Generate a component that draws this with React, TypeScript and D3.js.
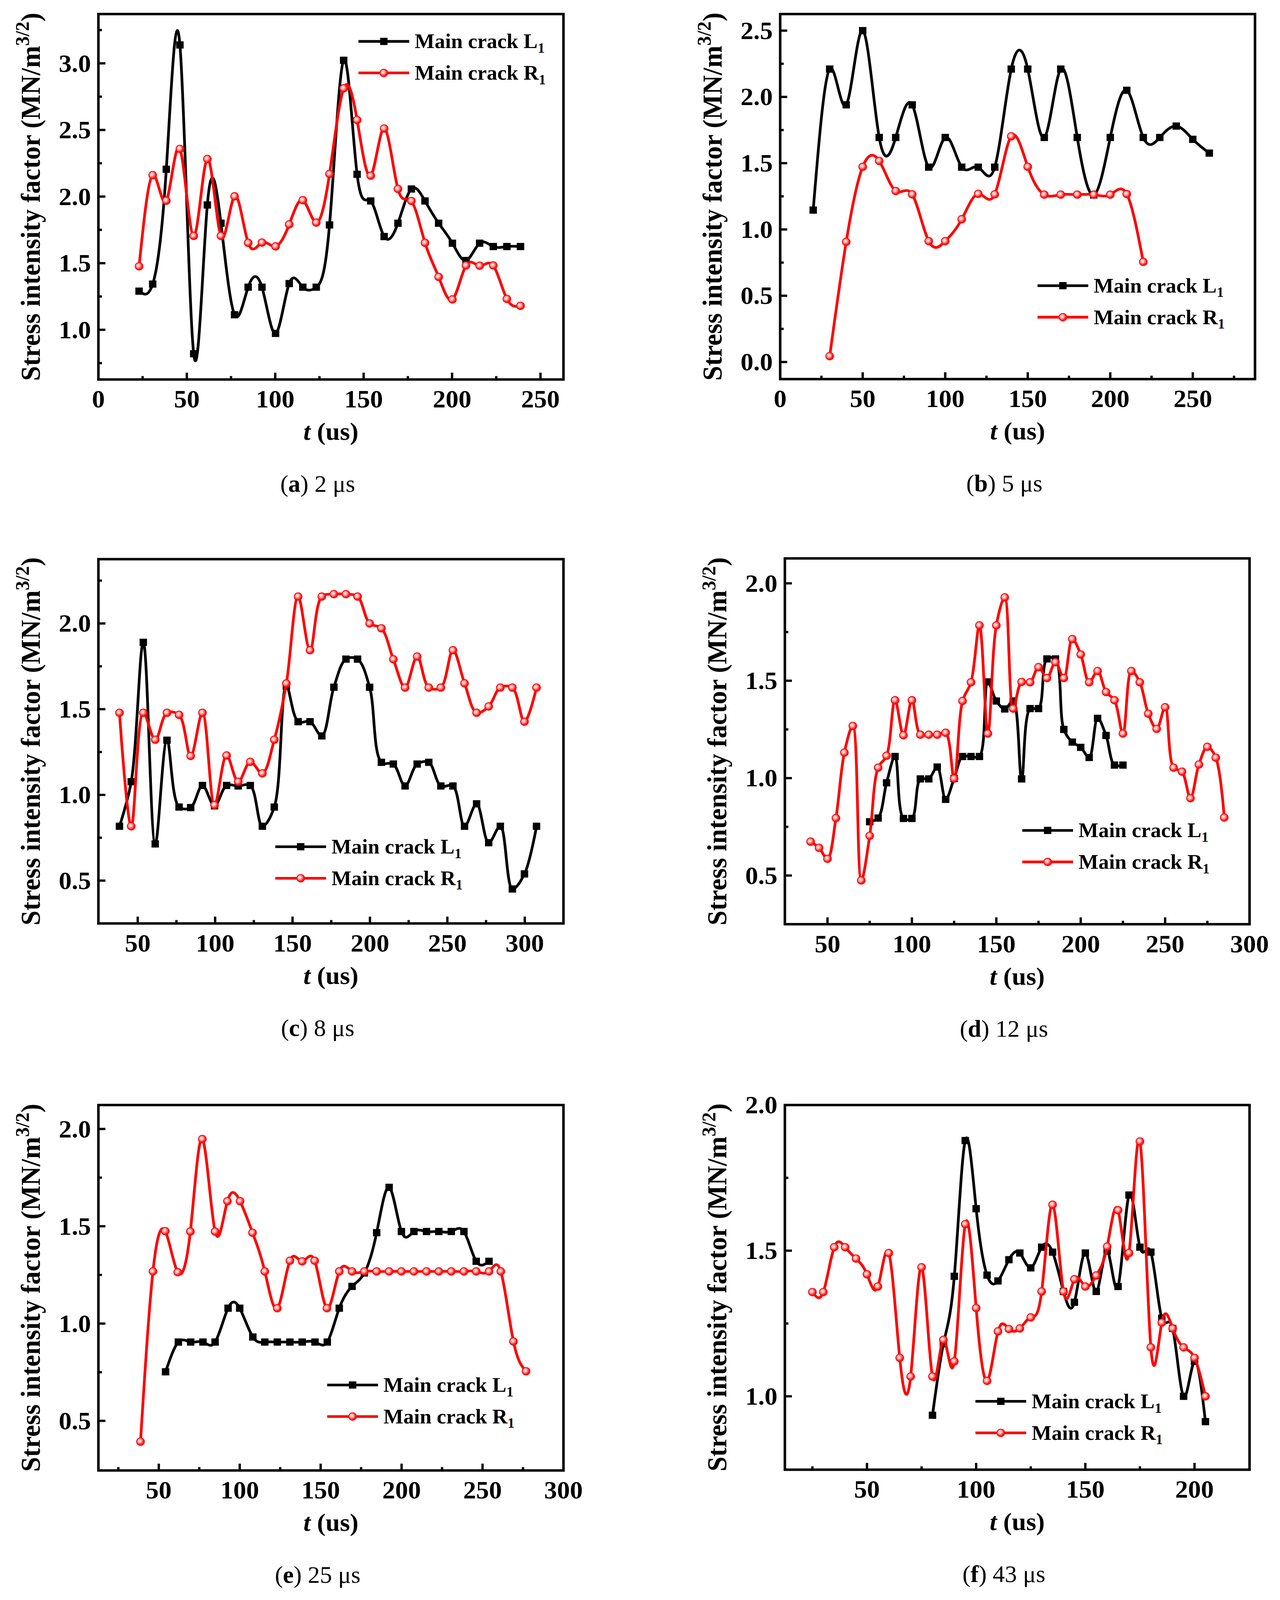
import * as d3 from "d3";

// ---- data (t in us, K in MN/m^3/2) ----
const tA = [23, 30.7, 38.4, 46.1, 53.9, 61.6, 69.3, 77, 84.7, 92.5, 100.2, 107.9, 115.6, 123.2, 130.7, 138.7, 146.3, 154, 161.6, 169.4, 177, 184.7, 192.4, 200.2, 207.9, 215.6, 223.3, 231, 238.7];
const l1A = [1.29, 1.343, 2.205, 3.138, 0.82, 1.937, 1.8, 1.113, 1.32, 1.32, 0.973, 1.347, 1.32, 1.32, 1.787, 3.023, 2.167, 1.967, 1.7, 1.8, 2.057, 1.967, 1.8, 1.65, 1.52, 1.65, 1.625, 1.625, 1.625];
const r1A = [1.477, 2.161, 1.969, 2.358, 1.705, 2.282, 1.705, 2.002, 1.653, 1.655, 1.626, 1.791, 1.973, 1.805, 2.17, 2.812, 2.575, 2.157, 2.511, 2.057, 1.967, 1.653, 1.397, 1.228, 1.483, 1.481, 1.483, 1.232, 1.18];

const tBL = [20, 30, 40, 50, 60, 70, 80, 90, 100, 110, 120, 130, 140, 150, 160, 170, 180, 190, 200, 210, 220, 230, 240, 250, 260];
const l1B = [1.146, 2.21, 1.94, 2.5, 1.694, 1.694, 1.94, 1.47, 1.694, 1.47, 1.47, 1.47, 2.21, 2.21, 1.694, 2.21, 1.694, 1.26, 1.694, 2.05, 1.694, 1.694, 1.78, 1.68, 1.576];
const tBR = [30, 40, 50, 60, 70, 80, 90, 100, 110, 120, 130, 140, 150, 160, 170, 180, 190, 200, 210, 220];
const r1B = [0.044, 0.906, 1.473, 1.517, 1.29, 1.265, 0.912, 0.912, 1.077, 1.269, 1.265, 1.703, 1.473, 1.263, 1.263, 1.263, 1.263, 1.263, 1.267, 0.755];

const tC = [38.2, 45.8, 53.6, 61.3, 68.9, 76.7, 84.2, 91.8, 99.6, 107.4, 114.9, 122.7, 130.5, 138.2, 146, 153.6, 161.3, 168.9, 176.7, 184.5, 192, 199.8, 207.4, 215.1, 222.7, 230.5, 238, 245.8, 253.6, 261.1, 268.9, 276.7, 284.2, 292, 299.8, 307.6];
const l1C = [0.817, 1.077, 1.89, 0.714, 1.319, 0.929, 0.926, 1.055, 0.936, 1.055, 1.052, 1.055, 0.817, 0.929, 1.634, 1.427, 1.427, 1.344, 1.628, 1.792, 1.792, 1.628, 1.19, 1.18, 1.052, 1.18, 1.19, 1.052, 1.052, 0.817, 0.948, 0.721, 0.817, 0.451, 0.539, 0.817];
const r1C = [1.479, 0.817, 1.479, 1.322, 1.479, 1.467, 1.227, 1.479, 0.941, 1.23, 1.077, 1.193, 1.126, 1.322, 1.65, 2.157, 1.844, 2.157, 2.171, 2.171, 2.157, 2.0, 1.972, 1.791, 1.626, 1.807, 1.626, 1.626, 1.844, 1.651, 1.479, 1.516, 1.626, 1.626, 1.427, 1.626];

const tDL = [75, 80, 85, 90, 95, 100, 105, 110, 115, 120, 125, 130, 135, 140, 145, 150, 155, 160, 165, 170, 175, 180, 185, 190, 195, 200, 205, 210, 215, 220, 225];
const l1D = [0.776, 0.795, 0.976, 1.111, 0.793, 0.793, 0.996, 0.996, 1.057, 0.891, 0.998, 1.111, 1.111, 1.111, 1.494, 1.396, 1.355, 1.396, 0.996, 1.357, 1.357, 1.612, 1.612, 1.25, 1.185, 1.158, 1.106, 1.307, 1.219, 1.067, 1.067];
const tDR = [40, 45, 50, 55, 60, 65, 70, 75, 80, 85, 90, 95, 100, 105, 110, 115, 120, 125, 130, 135, 140, 145, 150, 155, 160, 165, 170, 175, 180, 185, 190, 195, 200, 205, 210, 215, 220, 225, 230, 235, 240, 245, 250, 255, 260, 265, 270, 275, 280, 285];
const r1D = [0.674, 0.642, 0.586, 0.795, 1.131, 1.268, 0.475, 0.704, 1.054, 1.115, 1.4, 1.22, 1.4, 1.223, 1.223, 1.223, 1.233, 0.998, 1.396, 1.492, 1.784, 1.229, 1.784, 1.928, 1.357, 1.494, 1.492, 1.57, 1.514, 1.595, 1.514, 1.714, 1.635, 1.492, 1.55, 1.442, 1.4, 1.229, 1.55, 1.492, 1.331, 1.253, 1.364, 1.054, 1.033, 0.897, 1.07, 1.161, 1.105, 0.798];

const tEL = [54.2, 62.1, 69.7, 77.3, 84.8, 92.8, 100, 108.1, 115.5, 123.2, 131, 138.6, 146.5, 154.1, 161.5, 169.4, 177, 184.6, 192.3, 199.9, 207.6, 215.4, 223, 230.7, 238.5, 246.1, 254];
const l1E = [0.752, 0.905, 0.905, 0.905, 0.905, 1.079, 1.079, 0.931, 0.905, 0.905, 0.905, 0.905, 0.905, 0.905, 1.079, 1.191, 1.26, 1.467, 1.7, 1.473, 1.473, 1.473, 1.473, 1.473, 1.473, 1.32, 1.32];
const tER = [38.7, 46.4, 54, 61.7, 69.5, 76.9, 84.8, 92.4, 100.2, 107.9, 115.5, 123.2, 131, 138.6, 146.3, 153.9, 161.5, 169.4, 177, 184.6, 192.3, 199.9, 207.6, 215.4, 223, 230.7, 238.5, 246.1, 254, 261.3, 269.1, 276.9];
const r1E = [0.393, 1.268, 1.475, 1.264, 1.473, 1.948, 1.473, 1.629, 1.629, 1.467, 1.268, 1.079, 1.323, 1.32, 1.323, 1.079, 1.268, 1.268, 1.268, 1.268, 1.268, 1.268, 1.268, 1.268, 1.268, 1.268, 1.268, 1.268, 1.268, 1.268, 0.908, 0.755];

const tFL = [80, 85, 90, 95, 100, 105, 110, 115, 120, 125, 130, 135, 140, 145, 150, 155, 160, 165, 170, 175, 180, 185, 190, 195, 200, 205];
const l1F = [0.935, 1.18, 1.412, 1.878, 1.644, 1.416, 1.396, 1.469, 1.492, 1.441, 1.512, 1.495, 1.36, 1.323, 1.492, 1.36, 1.499, 1.377, 1.691, 1.512, 1.495, 1.268, 1.233, 1.0, 1.12, 0.913];
const tFR = [25, 30, 35, 40, 45, 50, 55, 60, 65, 70, 75, 80, 85, 90, 95, 100, 105, 110, 115, 120, 125, 130, 135, 140, 145, 150, 155, 160, 165, 170, 175, 180, 185, 190, 195, 200, 205];
const r1F = [1.358, 1.358, 1.512, 1.512, 1.473, 1.419, 1.377, 1.492, 1.132, 1.068, 1.443, 1.068, 1.194, 1.12, 1.591, 1.303, 1.053, 1.223, 1.231, 1.233, 1.271, 1.36, 1.658, 1.36, 1.402, 1.377, 1.415, 1.514, 1.639, 1.492, 1.875, 1.168, 1.253, 1.233, 1.168, 1.132, 1.0];

const seriesNames = ["Main crack L", "Main crack R"];
const captions = [["a", "2 μs"], ["b", "5 μs"], ["c", "8 μs"], ["d", "12 μs"], ["e", "25 μs"], ["f", "43 μs"]];

const W = 3278;
const H = 4212;
const FONT = "'Liberation Serif', 'Times New Roman', serif";

type Cfg = {
  key: string;
  box: [number, number, number, number]; // left, top, right, bottom
  xDomain: [number, number];
  yDomain: [number, number];
  xTicks: number[];
  xMinor: number[];
  yTicks: number[];
  yMinor: number[];
  l1: [number[], number[]];
  r1: [number[], number[]];
  legend: [number, number]; // line start x, first row y
  caption: string[];
  curve: d3.CurveFactory;
};

const panels: Cfg[] = [
  {
    key: "a", box: [252, 37, 1443, 999], xDomain: [0, 263], yDomain: [0.627, 3.37],
    xTicks: [0, 50, 100, 150, 200, 250], xMinor: [25, 75, 125, 175, 225],
    yTicks: [1.0, 1.5, 2.0, 2.5, 3.0], yMinor: [0.75, 1.25, 1.75, 2.25, 2.75, 3.25],
    l1: [tA, l1A], r1: [tA, r1A], legend: [918, 109], caption: captions[0], curve: d3.curveNatural,
  },
  {
    key: "b", box: [1998, 37, 3214, 998], xDomain: [0, 287.7], yDomain: [-0.129, 2.625],
    xTicks: [0, 50, 100, 150, 200, 250], xMinor: [25, 75, 125, 175, 225, 275],
    yTicks: [0.0, 0.5, 1.0, 1.5, 2.0, 2.5], yMinor: [0.25, 0.75, 1.25, 1.75, 2.25],
    l1: [tBL, l1B], r1: [tBR, r1B], legend: [2657, 752], caption: captions[1], curve: d3.curveNatural,
  },
  {
    key: "c", box: [252, 1472, 1443, 2431], xDomain: [24.6, 325], yDomain: [0.25, 2.375],
    xTicks: [50, 100, 150, 200, 250, 300], xMinor: [75, 125, 175, 225, 275],
    yTicks: [0.5, 1.0, 1.5, 2.0], yMinor: [0.75, 1.25, 1.75, 2.25],
    l1: [tC, l1C], r1: [tC, r1C], legend: [705, 2229], caption: captions[2], curve: d3.curveCatmullRom.alpha(0.5),
  },
  {
    key: "d", box: [2010, 1470, 3200, 2433], xDomain: [24.75, 300], yDomain: [0.25, 2.128],
    xTicks: [50, 100, 150, 200, 250, 300], xMinor: [75, 125, 175, 225, 275],
    yTicks: [0.5, 1.0, 1.5, 2.0], yMinor: [0.75, 1.25, 1.75],
    l1: [tDL, l1D], r1: [tDR, r1D], legend: [2618, 2186], caption: captions[3], curve: d3.curveCatmullRom.alpha(0.5),
  },
  {
    key: "e", box: [252, 2909, 1443, 3871], xDomain: [12.7, 300], yDomain: [0.245, 2.123],
    xTicks: [50, 100, 150, 200, 250, 300], xMinor: [25, 75, 125, 175, 225, 275],
    yTicks: [0.5, 1.0, 1.5, 2.0], yMinor: [0.75, 1.25, 1.75],
    l1: [tEL, l1E], r1: [tER, r1E], legend: [838, 3646], caption: captions[4], curve: d3.curveNatural,
  },
  {
    key: "f", box: [2010, 2909, 3200, 3869], xDomain: [12.4, 225.2], yDomain: [0.748, 2.0],
    xTicks: [50, 100, 150, 200], xMinor: [25, 75, 125, 175],
    yTicks: [1.0, 1.5, 2.0], yMinor: [1.25, 1.75],
    l1: [tFL, l1F], r1: [tFR, r1F], legend: [2498, 3689], caption: captions[5], curve: d3.curveNatural,
  },
];

const SQ = 19;
const CR = 10;

function Square({ x, y }: { x: number; y: number }) {
  return <rect x={x - SQ / 2} y={y - SQ / 2} width={SQ} height={SQ} fill="#000" />;
}
function Ball({ x, y }: { x: number; y: number }) {
  return <circle cx={x} cy={y} r={CR} fill="url(#ballRed)" stroke="#ff0000" strokeWidth={2} />;
}

function Panel({ cfg }: { cfg: Cfg }) {
  const [left, top, right, bottom] = cfg.box;
  const x = d3.scaleLinear().domain(cfg.xDomain).range([left, right]);
  const y = d3.scaleLinear().domain(cfg.yDomain).range([bottom, top]);
  const line = d3
    .line<[number, number]>()
    .x((d) => x(d[0]))
    .y((d) => y(d[1]))
    .curve(cfg.curve);
  const pts = (s: [number[], number[]]) => s[0].map((t, i) => [t, s[1][i]] as [number, number]);
  const l1 = pts(cfg.l1);
  const r1 = pts(cfg.r1);
  const clipId = `clip-${cfg.key}`;
  const cx = (left + right) / 2;
  const cy = (top + bottom) / 2;
  const [lx, ly] = cfg.legend;
  const lw = 130;
  const gap = 83;

  return (
    <g>
      <defs>
        <clipPath id={clipId}>
          <rect x={left} y={top} width={right - left} height={bottom - top} />
        </clipPath>
      </defs>

      {/* series */}
      <g clipPath={`url(#${clipId})`}>
        <path d={line(l1) || ""} fill="none" stroke="#000" strokeWidth={7} strokeLinejoin="round" />
        {l1.map((d, i) => <Square key={i} x={x(d[0])} y={y(d[1])} />)}
        <path d={line(r1) || ""} fill="none" stroke="#ff0000" strokeWidth={7} strokeLinejoin="round" />
        {r1.map((d, i) => <Ball key={i} x={x(d[0])} y={y(d[1])} />)}
      </g>

      {/* frame */}
      <rect x={left} y={top} width={right - left} height={bottom - top} fill="none" stroke="#000" strokeWidth={6.5} />

      {/* x ticks */}
      {cfg.xTicks.map((t) => (
        <g key={`xt${t}`}>
          <line x1={x(t)} x2={x(t)} y1={bottom} y2={bottom - 18} stroke="#000" strokeWidth={6} />
          <text x={x(t)} y={bottom + 74} textAnchor="middle" fontFamily={FONT} fontWeight="bold" fontSize={66}>
            {t}
          </text>
        </g>
      ))}
      {cfg.xMinor.map((t) => (
        <line key={`xm${t}`} x1={x(t)} x2={x(t)} y1={bottom} y2={bottom - 9} stroke="#000" strokeWidth={6} />
      ))}

      {/* y ticks */}
      {cfg.yTicks.map((v) => (
        <g key={`yt${v}`}>
          <line x1={left} x2={left + 18} y1={y(v)} y2={y(v)} stroke="#000" strokeWidth={6} />
          <text x={left - 19} y={y(v) + 22} textAnchor="end" fontFamily={FONT} fontWeight="bold" fontSize={66}>
            {d3.format(".1f")(v)}
          </text>
        </g>
      ))}
      {cfg.yMinor.map((v) => (
        <line key={`ym${v}`} x1={left} x2={left + 9} y1={y(v)} y2={y(v)} stroke="#000" strokeWidth={6} />
      ))}

      {/* axis titles */}
      <text x={cx} y={bottom + 159} textAnchor="middle" fontFamily={FONT} fontWeight="bold" fontSize={66}>
        <tspan fontStyle="italic">t</tspan> (us)
      </text>
      <text
        transform={`translate(${left - 150},${cy}) rotate(-90)`}
        textAnchor="middle"
        fontFamily={FONT}
        fontWeight="bold"
        fontSize={70}
      >
        Stress intensity factor (MN/m
        <tspan dy={-28} fontSize={50}>3/2</tspan>
        <tspan dy={28}>)</tspan>
      </text>

      {/* legend */}
      {[0, 1].map((k) => {
        const yy = ly + k * gap;
        const color = k === 0 ? "#000" : "#ff0000";
        return (
          <g key={`lg${k}`}>
            <line x1={lx} x2={lx + lw} y1={yy} y2={yy} stroke={color} strokeWidth={7} />
            {k === 0 ? <Square x={lx + lw / 2} y={yy} /> : <Ball x={lx + lw / 2} y={yy} />}
            <text x={lx + lw + 14} y={yy + 18} fontFamily={FONT} fontWeight="bold" fontSize={54}>
              {seriesNames[k]}
              <tspan dy={12} fontSize={36}>1</tspan>
            </text>
          </g>
        );
      })}

      {/* caption */}
      <text x={cx - 34} y={bottom + 296} textAnchor="middle" fontFamily={FONT} fontSize={62}>
        (<tspan fontWeight="bold">{cfg.caption[0]}</tspan>) {cfg.caption[1]}
      </text>
    </g>
  );
}

export default function App() {
  // the svg fills the visible viewport so nothing at the bottom is cut
  return (
    <svg
      viewBox={`0 0 ${W} ${H}`}
      preserveAspectRatio="none"
      style={{ position: "absolute", left: 0, top: 0, width: "100vw", height: "100vh", background: "#fff", display: "block" }}
    >
      <defs>
        <radialGradient id="ballRed" cx="0.4" cy="0.4" r="0.6">
          <stop offset="0%" stopColor="#ffffff" />
          <stop offset="35%" stopColor="#ffb4b4" />
          <stop offset="75%" stopColor="#ff2a2a" />
          <stop offset="100%" stopColor="#ff0000" />
        </radialGradient>
      </defs>
      <rect width={W} height={H} fill="#fff" />
      {panels.map((p) => (
        <Panel key={p.key} cfg={p} />
      ))}
    </svg>
  );
}
